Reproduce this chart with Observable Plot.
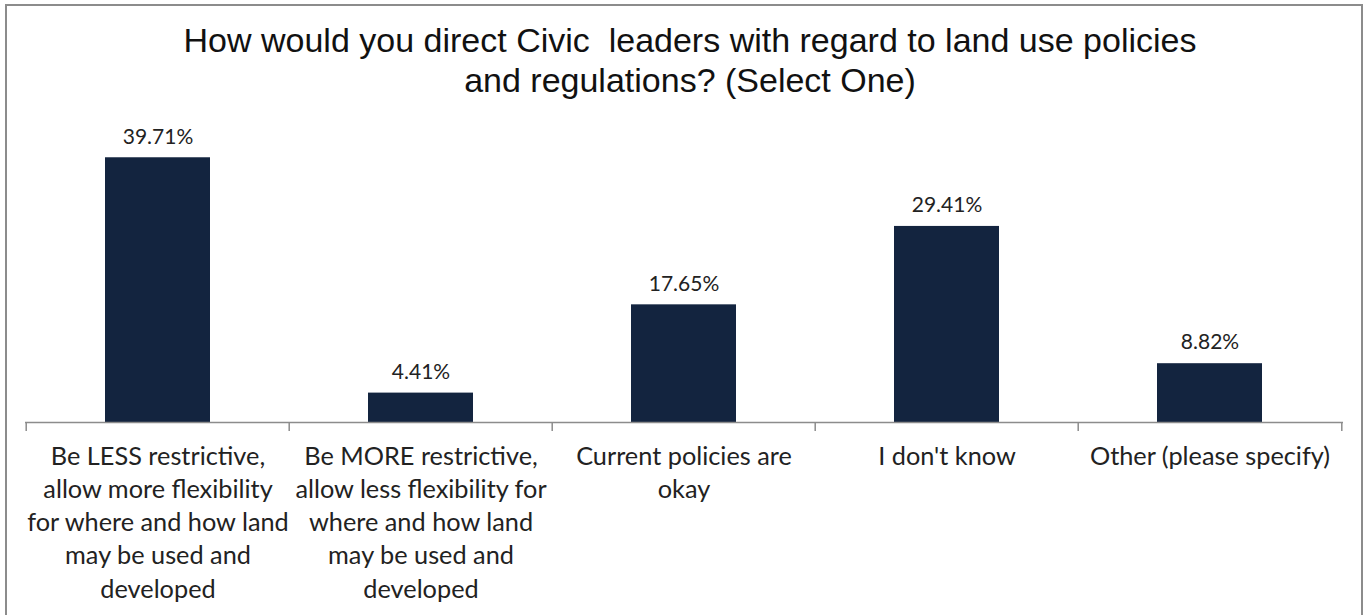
<!DOCTYPE html>
<html>
<head>
<meta charset="utf-8">
<script src="https://cdn.jsdelivr.net/npm/d3@7"></script>
<script src="https://cdn.jsdelivr.net/npm/@observablehq/plot@0.6"></script>
<style>
  html, body { margin: 0; padding: 0; background: #fff; width: 1367px; height: 615px; overflow: hidden; }
  #frame { position: absolute; left: 5px; top: 4px; width: 1358px; height: 700px; border: 2px solid #8c8c8c; box-sizing: border-box; }
  #title { position: absolute; left: 0; top: 20px; width: 1380px; text-align: center; font-family: "Liberation Sans", Arial, sans-serif; font-size: 34px; line-height: 40px; color: #111; white-space: pre; }
  #chart { position: absolute; left: 0; top: 0; }
</style>
</head>
<body>
<div id="frame"></div>
<div id="chart"></div>
<div id="title">How would you direct Civic  leaders with regard to land use policies
and regulations? (Select One)</div>
<script>
const categories = [
  "Be LESS restrictive,\nallow more flexibility\nfor where and how land\nmay be used and\ndeveloped",
  "Be MORE restrictive,\nallow less flexibility for\nwhere and how land\nmay be used and\ndeveloped",
  "Current policies are\nokay",
  "I don't know",
  "Other (please specify)"
];
const values = [39.71, 4.41, 17.65, 29.41, 8.82];
const valueLabels = ["39.71%", "4.41%", "17.65%", "29.41%", "8.82%"];

const data = categories.map((c, i) => ({category: c, value: values[i], label: valueLabels[i]}));

const W = 1367, H = 615;
const mL = 25, mR = 24, mT = 122, mB = 193;
const step = (W - mL - mR) / categories.length;
const gray = "#8c8c8c";

const chart = Plot.plot({
  width: W,
  height: H,
  marginLeft: mL,
  marginRight: mR,
  marginTop: mT,
  marginBottom: mB,
  style: {background: "transparent", overflow: "visible"},
  x: {type: "band", domain: categories, paddingInner: 0.6, paddingOuter: 0.3, axis: null, label: null},
  y: {domain: [0, 45], axis: null, label: null},
  marks: [
    Plot.barY(data, {x: "category", y: "value", fill: "#13243f"}),
    Plot.ruleY([0], {stroke: gray, strokeWidth: 1.5}),
    Plot.axisX({tickSize: 9, tickFormat: () => "", label: null, dx: -step / 2, stroke: gray, strokeWidth: 1.5}),
    Plot.axisX({ticks: [categories[categories.length - 1]], tickSize: 9, tickFormat: () => "", label: null, dx: step / 2, stroke: gray, strokeWidth: 1.5}),
    Plot.text(data, {x: "category", y: "value", text: "label", dy: -21, fontFamily: "Lato", fontSize: 21, fill: "#222"}),
    Plot.text(data, {x: "category", y: 0, text: "category", lineAnchor: "top", dy: 19, lineHeight: 1.31, fontFamily: "Lato", fontSize: 25.3, fill: "#222"})
  ]
});
document.getElementById("chart").appendChild(chart);
</script>
</body>
</html>
